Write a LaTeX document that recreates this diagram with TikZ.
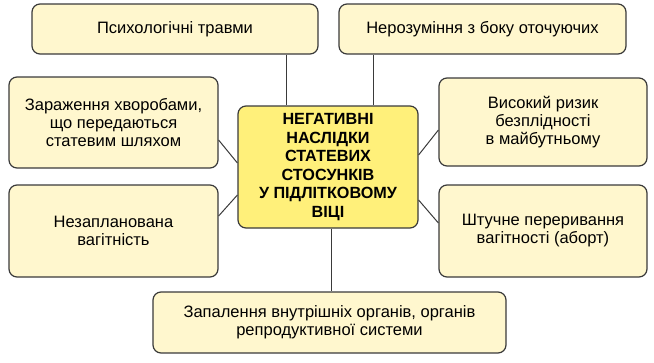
\documentclass[tikz,border=0pt]{standalone}
\usepackage{fontspec}
\setmainfont{Liberation Sans}
\begin{document}
\begin{tikzpicture}[x=1pt,y=-1pt,
  box/.style={draw=linec, line width=1.2pt, rounded corners=8pt, fill=boxfill,
    align=center, inner sep=0pt, font=\fontsize{16.5}{18}\selectfont},
  mainbox/.style={box, fill=mainfill, font=\fontsize{16.2}{18.6}\selectfont\bfseries},
  link/.style={draw=linec, line width=1pt}]
\definecolor{linec}{HTML}{3A3A3A}
\definecolor{boxfill}{HTML}{FFF7CE}
\definecolor{mainfill}{HTML}{FFF07A}
\useasboundingbox (0,0) rectangle (654,362);
\node[box, minimum width=286pt, minimum height=50pt] (b1) at (175,29) {Психологічні травми};
\node[box, minimum width=287pt, minimum height=50pt] (b2) at (482.5,29) {Нерозуміння з боку оточуючих};
\node[box, minimum width=209pt, minimum height=91pt] (b3) at (113.5,122.5) {Зараження хворобами,\\що передаються\\статевим шляхом};
\node[mainbox, minimum width=180pt, minimum height=122pt] (c) at (328,167) {НЕГАТИВНІ\\НАСЛІДКИ\\СТАТЕВИХ\\СТОСУНКІВ\\У ПІДЛІТКОВОМУ\\ВІЦІ};
\node[box, minimum width=208pt, minimum height=88pt] (b5) at (543,122) {Високий ризик\\безплідності\\в майбутньому};
\node[box, minimum width=209pt, minimum height=92pt] (b6) at (113.5,231) {Незапланована\\вагітність};
\node[box, minimum width=208pt, minimum height=92pt] (b7) at (543,231) {Штучне переривання\\вагітності (аборт)};
\node[box, minimum width=353pt, minimum height=61pt] (b8) at (329.5,322.5) {Запалення внутрішніх органів, органів\\репродуктивної системи};
\draw[link] ([xshift=-32pt]b1.south east) -- ([xshift=-32pt]b1.south east |- c.north);
\draw[link] ([xshift=35pt]b2.south west) -- ([xshift=35pt]b2.south west |- c.north);
\draw[link] ([yshift=-17.5pt]b3.east) -- ([yshift=4pt]c.west);
\draw[link] ([yshift=-8pt]b5.west) -- ([yshift=12pt]c.east);
\draw[link] ([yshift=15pt]b6.east) -- ([yshift=-28pt]c.west);
\draw[link] ([yshift=8pt]b7.west) -- ([yshift=-33pt]c.east);
\draw[link] ([xshift=3pt]c.south) -- ([xshift=3pt]c.south |- b8.north);
\end{tikzpicture}
\end{document}
